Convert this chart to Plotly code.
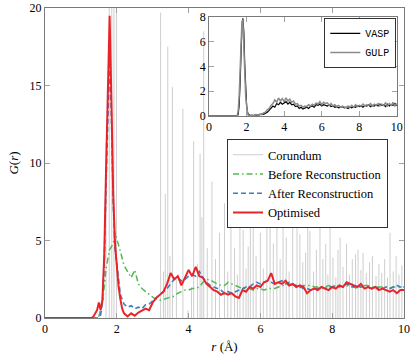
import plotly.graph_objects as go

# main panel: G(r) of the models
r_main = [0.0, 1.3, 1.35, 1.4, 1.45, 1.5, 1.55, 1.6, 1.65, 1.7, 1.75, 1.8, 1.85, 1.9, 1.95, 2.0, 2.05, 2.1, 2.15, 2.2, 2.25,
          2.3, 2.4, 2.5, 2.6, 2.7, 2.8, 2.9, 3.0, 3.1, 3.2, 3.3, 3.4, 3.5, 3.6, 3.7, 3.8, 3.9, 4.0, 4.1, 4.2, 4.3, 4.4,
          4.5, 4.6, 4.7, 4.8, 4.9, 5.0, 5.1, 5.2, 5.3, 5.4, 5.5, 5.6, 5.7, 5.8, 5.9, 6.0, 6.1, 6.2, 6.3, 6.4, 6.5, 6.6,
          6.7, 6.8, 6.9, 7.0, 7.1, 7.2, 7.3, 7.4, 7.5, 7.6, 7.7, 7.8, 7.9, 8.0, 8.1, 8.2, 8.3, 8.4, 8.5, 8.6, 8.7, 8.8,
          8.9, 9.0, 9.1, 9.2, 9.3, 9.4, 9.5, 9.6, 9.7, 9.8, 9.9, 10.0]

g_before = [0, 0, 0, 0, 0, 0.1, 0.5, 1.0, 2.0, 3.2, 3.8, 4.4, 4.6, 4.8, 5.5, 5.0, 4.7, 4.3, 3.8, 3.4, 3.2,
            3.0, 2.6, 3.1, 2.2, 1.9, 1.7, 1.5, 1.35, 1.2, 1.15, 1.2, 1.3, 1.35, 1.4, 1.6, 1.7, 1.8, 1.8, 1.9, 1.9, 2.0, 2.3,
            2.5, 2.45, 2.3, 2.2, 2.1, 2.1, 2.3, 2.2, 2.1, 2.0, 1.9, 1.9, 1.9, 1.8, 1.9, 1.9, 1.8, 1.9, 1.9, 1.9, 2.0, 2.1,
            2.1, 2.2, 2.1, 2.1, 2.0, 2.1, 2.1, 2.1, 2.0, 2.0, 2.0, 2.0, 2.1, 2.0, 2.1, 2.1, 2.0, 2.1, 2.0, 2.0, 1.9, 2.0,
            2.1, 2.1, 2.0, 2.0, 2.0, 2.0, 2.0, 1.9, 2.0, 2.0, 2.0, 2.0]

g_after = [0, 0, 0, 0, 0, 0.05, 0.2, 1.0, 3.5, 8.5, 13.5, 16.8, 13.0, 7.5, 4.5, 3.6, 2.5, 1.5, 1.2, 0.9, 0.8,
           0.7, 0.8, 0.6, 0.7, 0.6, 0.85, 0.9, 1.1, 1.3, 1.5, 1.7, 1.9, 2.2, 2.5, 2.6, 2.4, 2.5, 2.7, 2.8, 2.7, 3.0, 2.6,
           2.3, 2.1, 2.0, 1.9, 1.8, 1.6, 1.7, 1.6, 1.7, 1.8, 1.9, 2.0, 2.0, 2.2, 2.3, 2.2, 2.3, 2.4, 2.3, 2.2, 2.3, 2.4,
           2.2, 2.3, 2.2, 2.1, 2.0, 1.9, 1.9, 1.8, 1.9, 1.9, 2.0, 1.9, 2.0, 2.0, 2.1, 2.0, 2.1, 2.2, 2.1, 2.0, 2.1, 2.0,
           2.0, 2.0, 1.9, 2.0, 1.9, 1.9, 2.0, 1.9, 2.0, 2.1, 2.0, 2.0]

g_optimised = [0, 0, 0.1, 0.3, 0.5, 1.0, 0.5, 1.2, 4.0, 9.5, 14.5, 19.5, 14.0, 8.0, 4.8, 3.4, 2.0, 1.2, 0.6, 0.3, 0.2,
               0.1, 0.3, 0.15, 0.35, 0.5, 0.6, 0.5, 1.0, 1.3, 1.5, 1.7, 2.2, 2.9, 2.5, 2.7, 2.1, 2.6, 3.1, 2.7, 3.3, 2.7, 2.6,
               2.2, 2.0, 1.8, 1.7, 1.5, 1.6, 1.5, 1.6, 1.4, 1.3, 1.8, 1.7, 2.0, 1.9, 2.1, 2.0, 2.3, 2.4, 2.9, 2.2, 2.3, 2.2,
               2.4, 2.1, 2.2, 2.0, 2.1, 2.0, 1.6, 1.8, 1.9, 1.8, 2.0, 1.9, 1.8, 2.0, 1.9, 2.1, 2.0, 2.3, 2.2, 2.1, 2.0, 2.2,
               1.9, 2.0, 1.9, 2.0, 1.8, 1.9, 1.8, 1.7, 1.8, 1.6, 1.8, 1.8]

# corundum reference: peak positions and heights
corundum_r = [1.70, 1.79, 1.86, 1.92, 1.99, 3.22, 3.30, 3.35, 3.42, 3.48, 3.55, 3.66, 3.84, 3.98, 4.08, 4.14, 4.25,
              4.32, 4.37, 4.42, 4.52, 4.65, 4.75, 4.86, 5.00, 5.09, 5.18, 5.28, 5.36, 5.43, 5.52, 5.60, 5.66, 5.72,
              5.80, 5.88, 6.00, 6.08, 6.18, 6.27, 6.36, 6.46, 6.55, 6.63, 6.72, 6.80, 6.90, 7.02, 7.10, 7.18, 7.26,
              7.32, 7.38, 7.48, 7.56, 7.66, 7.74, 7.82, 7.88, 7.94, 8.02, 8.10, 8.16, 8.22, 8.30, 8.40, 8.48, 8.56,
              8.65, 8.72, 8.80, 8.86, 8.95, 9.04, 9.12, 9.22, 9.30, 9.38, 9.46, 9.54, 9.61, 9.70, 9.78, 9.86, 9.94]
corundum_g = [11.3, 22, 30, 24, 30, 19.7, 3.0, 8.0, 17.5, 4.0, 14.9, 2.5, 13.5, 0.5, 2.0, 11.4, 3.5,
              10.6, 6.5, 18.5, 4.5, 8.8, 3.8, 5.5, 7.4, 3.0, 6.2, 4.5, 2.8, 9.5, 5.7, 3.2, 4.6, 9.0,
              10.0, 4.0, 5.5, 3.2, 6.5, 10.5, 4.8, 9.0, 3.8, 10.0, 5.2, 3.0, 6.0, 9.5, 5.4, 3.6, 4.2,
              6.4, 5.6, 3.0, 4.4, 10.5, 3.8, 4.8, 2.8, 6.1, 3.9, 2.6, 4.4, 5.2, 3.3, 4.8, 2.8, 3.8,
              4.1, 4.4, 3.1, 4.2, 2.9, 3.6, 4.0, 2.7, 3.5, 2.9, 3.8, 2.6, 5.5, 3.0, 4.0, 2.8, 3.4]

# inset: VASP vs GULP
r_inset = [0.0, 1.5, 1.55, 1.6, 1.65, 1.7, 1.75, 1.8, 1.85, 1.9, 1.95, 2.0, 2.05, 2.1,
           2.2, 2.3, 2.4, 2.5, 2.6, 2.7, 2.8, 2.9, 3.0, 3.1, 3.2, 3.3, 3.4, 3.5, 3.6, 3.7, 3.8, 3.9, 4.0, 4.1, 4.2,
           4.3, 4.4, 4.5, 4.6, 4.7, 4.8, 4.9, 5.0, 5.1, 5.2, 5.3, 5.4, 5.5, 5.6, 5.7, 5.8, 5.9, 6.0, 6.1, 6.2, 6.3,
           6.4, 6.5, 6.6, 6.7, 6.8, 6.9, 7.0, 7.1, 7.2, 7.3, 7.4, 7.5, 7.6, 7.7, 7.8, 7.9, 8.0, 8.1, 8.2, 8.3, 8.4,
           8.5, 8.6, 8.7, 8.8, 8.9, 9.0, 9.1, 9.2, 9.3, 9.4, 9.5, 9.6, 9.7, 9.8, 9.9, 10.0]
g_vasp = [0, 0, 0.1, 0.8, 2.5, 5.0, 7.2, 7.9, 6.8, 4.2, 2.0, 0.8, 0.3, 0.1,
          0.05, 0.02, 0.05, 0.08, 0.05, 0.1, 0.15, 0.12, 0.2, 0.3, 0.45, 0.6, 0.8, 0.7, 1.0, 0.9, 1.1, 0.95, 1.05,
          1.15, 0.95, 1.1, 0.9, 0.95, 0.75, 0.8, 0.6, 0.7, 0.55, 0.65, 0.7, 0.6, 0.75, 0.8, 0.7, 0.9, 0.85, 0.95,
          0.8, 0.9, 0.85, 0.8, 0.9, 0.75, 0.8, 0.7, 0.75, 0.65, 0.7, 0.75, 0.65, 0.7, 0.6, 0.7, 0.65, 0.75, 0.7,
          0.8, 0.75, 0.8, 0.7, 0.85, 0.8, 0.9, 0.75, 0.85, 0.8, 0.9, 0.8, 0.95, 0.85, 0.9, 0.75, 0.95, 0.8, 0.9,
          0.85, 1.0, 0.8]
g_gulp = [0, 0, 0.4, 1.5, 3.5, 6.0, 7.6, 7.8, 6.2, 3.6, 1.6, 0.6, 0.2, 0.05,
          0.0, 0.05, 0.0, 0.1, 0.05, 0.15, 0.1, 0.25, 0.3, 0.5, 0.6, 0.85, 1.0, 1.3, 1.1, 1.45, 1.2, 1.4, 1.15,
          1.45, 1.2, 1.35, 1.1, 1.2, 0.95, 1.0, 0.8, 0.85, 0.7, 0.8, 0.75, 0.9, 0.8, 0.95, 0.85, 1.05, 0.95, 1.15,
          0.9, 1.1, 1.0, 1.05, 0.85, 1.0, 0.8, 0.9, 0.75, 0.85, 0.7, 0.8, 0.75, 0.65, 0.8, 0.7, 0.85, 0.7, 0.9,
          0.75, 0.85, 0.8, 0.95, 0.8, 0.9, 0.85, 1.0, 0.8, 0.95, 0.85, 1.0, 0.8, 0.95, 0.85, 1.05, 0.8, 1.0, 0.85,
          1.1, 0.8, 1.0]

serif = "Liberation Serif, DejaVu Serif, serif"
mono = "Liberation Mono, DejaVu Sans Mono, monospace"

# corundum sticks drawn as vertical segments
spike_x, spike_y = [], []
for r, g in zip(corundum_r, corundum_g):
    spike_x += [r, r, None]
    spike_y += [0, g, None]

fig = go.Figure()
fig.add_trace(go.Scatter(x=spike_x, y=spike_y, mode="lines", name="Corundum",
                         line=dict(color="#c8c8c8", width=0.9)))
fig.add_trace(go.Scatter(x=r_main, y=g_before, mode="lines", name="Before Reconstruction",
                         line=dict(color="#55b84f", width=1.5, dash="6px,3px,1.5px,3px")))
fig.add_trace(go.Scatter(x=r_main, y=g_after, mode="lines", name="After Reconstruction",
                         line=dict(color="#3a7fc4", width=1.6, dash="5px,3px")))
fig.add_trace(go.Scatter(x=r_main, y=g_optimised, mode="lines", name="Optimised",
                         line=dict(color="#e8242a", width=2)))

fig.add_trace(go.Scatter(x=r_inset, y=g_vasp, mode="lines", name="VASP", xaxis="x2", yaxis="y2",
                         legend="legend2", line=dict(color="black", width=1.2)))
fig.add_trace(go.Scatter(x=r_inset, y=g_gulp, mode="lines", name="GULP", xaxis="x2", yaxis="y2",
                         legend="legend2", line=dict(color="#8a8a8a", width=1.5)))

axis_style = dict(showgrid=False, zeroline=False, showline=True, mirror="ticks", linecolor="#7a7a7a",
                  linewidth=1, ticks="inside", ticklen=5, tickcolor="#a0a0a0", automargin=False,
                  tickfont=dict(family=serif, size=12, color="black"))

fig.update_layout(
    width=415, height=360, margin=dict(l=45, r=11, t=8, b=42),
    plot_bgcolor="white", paper_bgcolor="white",
    font=dict(family=serif, size=12, color="black"),
    xaxis=dict(range=[0, 10], tickvals=[0, 2, 4, 6, 8, 10],
               title=dict(text="<i>r</i> (Å)", standoff=6, font=dict(size=13)), **axis_style),
    yaxis=dict(range=[0, 20], tickvals=[0, 5, 10, 15, 20],
               title=dict(text="<i>G</i>(<i>r</i>)", standoff=8, font=dict(size=13)), **axis_style),
    xaxis2=dict(domain=[0.457, 0.98], anchor="y2", range=[0, 10], tickvals=[0, 2, 4, 6, 8, 10], **axis_style),
    yaxis2=dict(domain=[0.652, 0.971], anchor="x2", range=[0, 8], tickvals=[0, 2, 4, 6, 8], **axis_style),
    legend=dict(x=0.507, y=0.577, xanchor="left", yanchor="top", bgcolor="white", bordercolor="#333333",
                borderwidth=1, font=dict(family=serif, size=12.5)),
    legend2=dict(x=0.778, y=0.968, xanchor="left", yanchor="top", bgcolor="white", bordercolor="#333333",
                 borderwidth=1, font=dict(family=mono, size=10)),
    shapes=[dict(type="rect", xref="x2", yref="y2", x0=0, x1=10, y0=0, y1=8,
                 fillcolor="white", line=dict(width=0), layer="below")],
)

# drop the page's default body margin so the figure sits at the window origin
fig.write_html("out.html", config={"displayModeBar": False},
               post_script="document.body.style.margin='0';")
